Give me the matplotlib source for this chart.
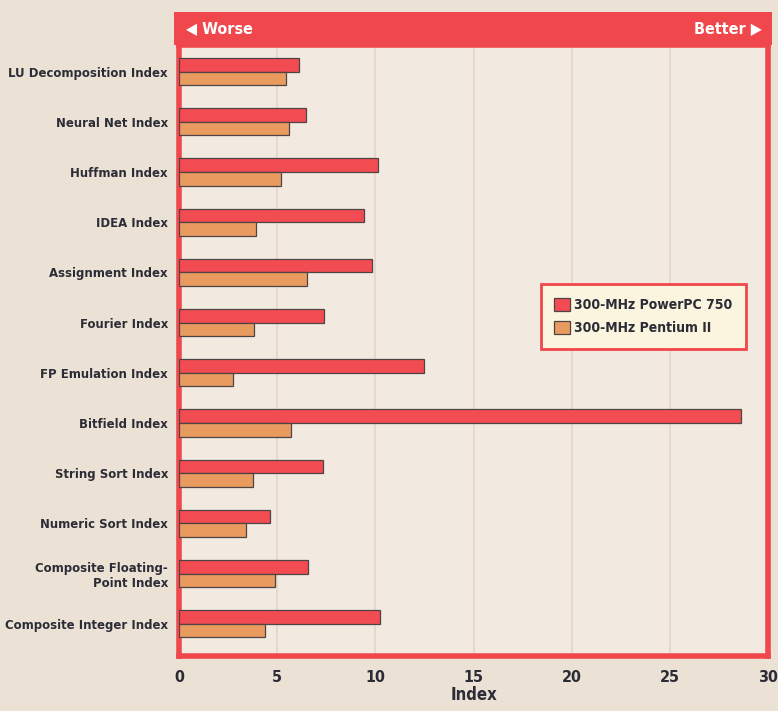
import matplotlib.pyplot as plt
from matplotlib.patches import Rectangle

categories = [
    'LU Decomposition Index',
    'Neural Net Index',
    'Huffman Index',
    'IDEA Index',
    'Assignment Index',
    'Fourier Index',
    'FP Emulation Index',
    'Bitfield Index',
    'String Sort Index',
    'Numeric Sort Index',
    'Composite Floating-\nPoint Index',
    'Composite Integer Index',
]
powerpc = [6.13, 6.49, 10.12, 9.40, 9.81, 7.36, 12.47, 28.62, 7.31, 4.65, 6.59, 10.22]
pentium = [5.47, 5.62, 5.21, 3.93, 6.54, 3.83, 2.76, 5.72, 3.78, 3.42, 4.91, 4.39]
series_names = ['300-MHz PowerPC 750', '300-MHz Pentium II']
x_ticks = [0, 5, 10, 15, 20, 25, 30]

# condensed bold DejaVu, closest to the original's narrow face
plt.rcParams['font.family'] = ['DejaVu Sans']
plt.rcParams['font.stretch'] = 'condensed'
plt.rcParams['font.weight'] = 'bold'

RED = '#ef474c'
BAR_RED = '#f24c52'
ORANGE = '#e99a5e'
EDGE = '#4e4446'
TEXT = '#2c2c36'
PAPER = '#ebe2d5'
INNER = '#f2eae0'

W, H = 778, 711
fig = plt.figure(figsize=(W / 100, H / 100), dpi=100, facecolor=PAPER)
left, right, top, bottom = 179, 768, 45, 656
ax = fig.add_axes([left / W, 1 - bottom / H, (right - left) / W, (bottom - top) / H])
ax.set_facecolor(INNER)

y = list(range(len(categories)))
h = 0.27
ax.barh([v - h / 2 for v in y], powerpc, height=h, color=BAR_RED, edgecolor=EDGE,
        linewidth=0.9, label=series_names[0], zorder=3)
ax.barh([v + h / 2 for v in y], pentium, height=h, color=ORANGE, edgecolor=EDGE,
        linewidth=0.9, label=series_names[1], zorder=3)

ax.set_xlim(0, 30)
ax.set_ylim(len(categories) - 0.36, -0.53)
ax.set_yticks(y)
ax.set_yticklabels(categories, fontsize=9.4, color=TEXT, linespacing=1.15)
ax.set_xticks(x_ticks)
ax.set_xticklabels([str(t) for t in x_ticks], fontsize=11.5, color=TEXT)
ax.tick_params(length=0)
ax.tick_params(axis='y', pad=8)
ax.tick_params(axis='x', pad=10)
ax.set_xlabel('Index', fontsize=12, fontweight='bold', fontstretch='condensed',
              color=TEXT, labelpad=1)

for xv in x_ticks[1:-1]:
    ax.axvline(xv, color='#e2d6c6', linewidth=1.2, zorder=1)

for s in ax.spines.values():
    s.set_color(RED)
    s.set_linewidth(4)

# red header band with direction hints
fig.patches.append(Rectangle((174 / W, 1 - top / H), (772 - 174) / W, (top - 12) / H,
                             transform=fig.transFigure, facecolor=RED, edgecolor='none',
                             zorder=0))
fig.text(186 / W, 1 - 29 / H, '◀ Worse', color='white', fontsize=11.5,
         va='center', ha='left')
fig.text(762 / W, 1 - 29 / H, 'Better ▶', color='white', fontsize=11.5,
         va='center', ha='right')

leg = ax.legend(loc='upper left', bbox_to_anchor=(0.602, 0.62), fontsize=10,
                frameon=True, fancybox=False, handlelength=1.1, handleheight=1.1,
                handletextpad=0.3, borderpad=1.0, labelspacing=0.6)
leg.get_frame().set_facecolor('#fbf4de')
leg.get_frame().set_edgecolor(RED)
leg.get_frame().set_linewidth(2)
leg.get_frame().set_alpha(1)
for t in leg.get_texts():
    t.set_color(TEXT)

fig.savefig('out.png', dpi=100, facecolor=PAPER)
